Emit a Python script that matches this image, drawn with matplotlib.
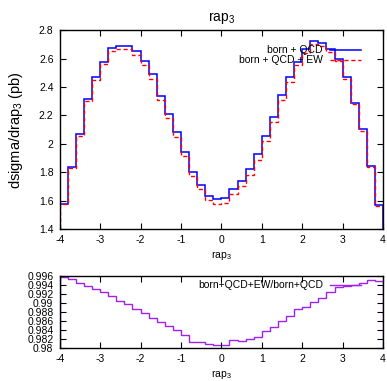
import numpy as np
import matplotlib
matplotlib.use('Agg')
import matplotlib.pyplot as plt
from matplotlib.ticker import FuncFormatter, MultipleLocator

# bins of rap_3, width 0.2 from -4 to 4
edges = np.linspace(-4, 4, 41)

# born + QCD
born_qcd = [1.579, 1.840, 2.066, 2.313, 2.468, 2.579, 2.673, 2.692, 2.692, 2.654,
            2.586, 2.489, 2.339, 2.212, 2.085, 1.945, 1.805, 1.710, 1.632, 1.611,
            1.619, 1.680, 1.735, 1.821, 1.926, 2.054, 2.186, 2.344, 2.473, 2.579,
            2.667, 2.727, 2.713, 2.666, 2.597, 2.468, 2.290, 2.102, 1.843, 1.570]

# born + QCD + EW
born_qcd_ew = [1.574, 1.833, 2.054, 2.299, 2.449, 2.560, 2.654, 2.666, 2.666, 2.624,
               2.555, 2.456, 2.306, 2.179, 2.049, 1.915, 1.774, 1.680, 1.605, 1.578,
               1.586, 1.649, 1.701, 1.781, 1.885, 2.019, 2.151, 2.311, 2.438, 2.555,
               2.638, 2.701, 2.692, 2.645, 2.586, 2.456, 2.282, 2.092, 1.835, 1.563]

# ratio born+QCD+EW / born+QCD
ratio = [0.9957, 0.9952, 0.99444, 0.99378, 0.99304, 0.9923, 0.99156, 0.99044, 0.98963, 0.98867,
         0.9877, 0.98667, 0.98563, 0.98489, 0.98393, 0.98281, 0.98126, 0.98126, 0.98074, 0.9806,
         0.98053, 0.98164, 0.98142, 0.982, 0.98245, 0.98371, 0.98467, 0.986, 0.98705, 0.98853,
         0.98911, 0.9901, 0.99111, 0.99231, 0.99342, 0.99371, 0.99393, 0.99431, 0.99504, 0.99489]

plt.rcParams['font.family'] = ['Liberation Sans', 'DejaVu Sans']
plt.rcParams['mathtext.fontset'] = 'custom'
plt.rcParams['mathtext.rm'] = 'Liberation Sans'
plt.rcParams['mathtext.it'] = 'Liberation Sans'
plt.rcParams['axes.unicode_minus'] = False

fig = plt.figure(figsize=(3.87, 3.81), dpi=100)
ax1 = fig.add_axes([0.1543, 0.399, 0.8354, 0.5215])
ax2 = fig.add_axes([0.1543, 0.0874, 0.8354, 0.189])

fmt = FuncFormatter(lambda v, p: '%g' % round(v, 6))

# top panel
ax1.stairs(born_qcd, edges, baseline=1.4, color='#0000ff', lw=1.1)
ax1.stairs(born_qcd_ew, edges, baseline=1.4, color='#ff0000', lw=1.0, linestyle=(0, (3, 2)))
ax1.set_xlim(-4, 4)
ax1.set_ylim(1.4, 2.8)
ax1.yaxis.set_major_locator(MultipleLocator(0.2))
ax1.xaxis.set_major_locator(MultipleLocator(1))
ax1.yaxis.set_major_formatter(fmt)
ax1.set_title('rap$_3$', fontsize=10, pad=7)
ax1.set_ylabel('dsigma/drap$_3$ (pb)', fontsize=10.5)
ax1.yaxis.set_label_coords(-0.107, 0.5)
ax1.set_xlabel('rap$_3$', fontsize=7.5)
ax1.xaxis.set_label_coords(0.5, -0.1)

# legend drawn gnuplot style: text right aligned, sample to the right
ax1.text(0.814, 0.902, 'born + QCD', transform=ax1.transAxes, ha='right', va='center', fontsize=7.5)
ax1.plot([0.836, 0.932], [0.902, 0.902], transform=ax1.transAxes, color='#0000ff', lw=1.1)
ax1.text(0.814, 0.850, 'born + QCD + EW', transform=ax1.transAxes, ha='right', va='center', fontsize=7.5)
ax1.plot([0.836, 0.932], [0.850, 0.850], transform=ax1.transAxes, color='#ff0000', lw=1.0,
         linestyle=(0, (3, 2)))

# bottom panel
ax2.stairs(ratio, edges, color='#a020f0', lw=1.0)
ax2.set_xlim(-4, 4)
ax2.set_ylim(0.98, 0.996)
ax2.yaxis.set_major_locator(MultipleLocator(0.002))
ax2.xaxis.set_major_locator(MultipleLocator(1))
ax2.yaxis.set_major_formatter(fmt)
ax2.set_xlabel('rap$_3$', fontsize=7.5)
ax2.xaxis.set_label_coords(0.5, -0.28)
ax2.text(0.814, 0.864, 'born+QCD+EW/born+QCD', transform=ax2.transAxes, ha='right', va='center',
         fontsize=7.5)
ax2.plot([0.836, 0.932], [0.864, 0.864], transform=ax2.transAxes, color='#a020f0', lw=1.0)

for ax in (ax1, ax2):
    ax.tick_params(direction='in', top=True, right=True, length=4, width=0.8,
                   labelsize=7.5, pad=4.5)
    for s in ax.spines.values():
        s.set_linewidth(1.0)

plt.savefig('out.png', dpi=100)
